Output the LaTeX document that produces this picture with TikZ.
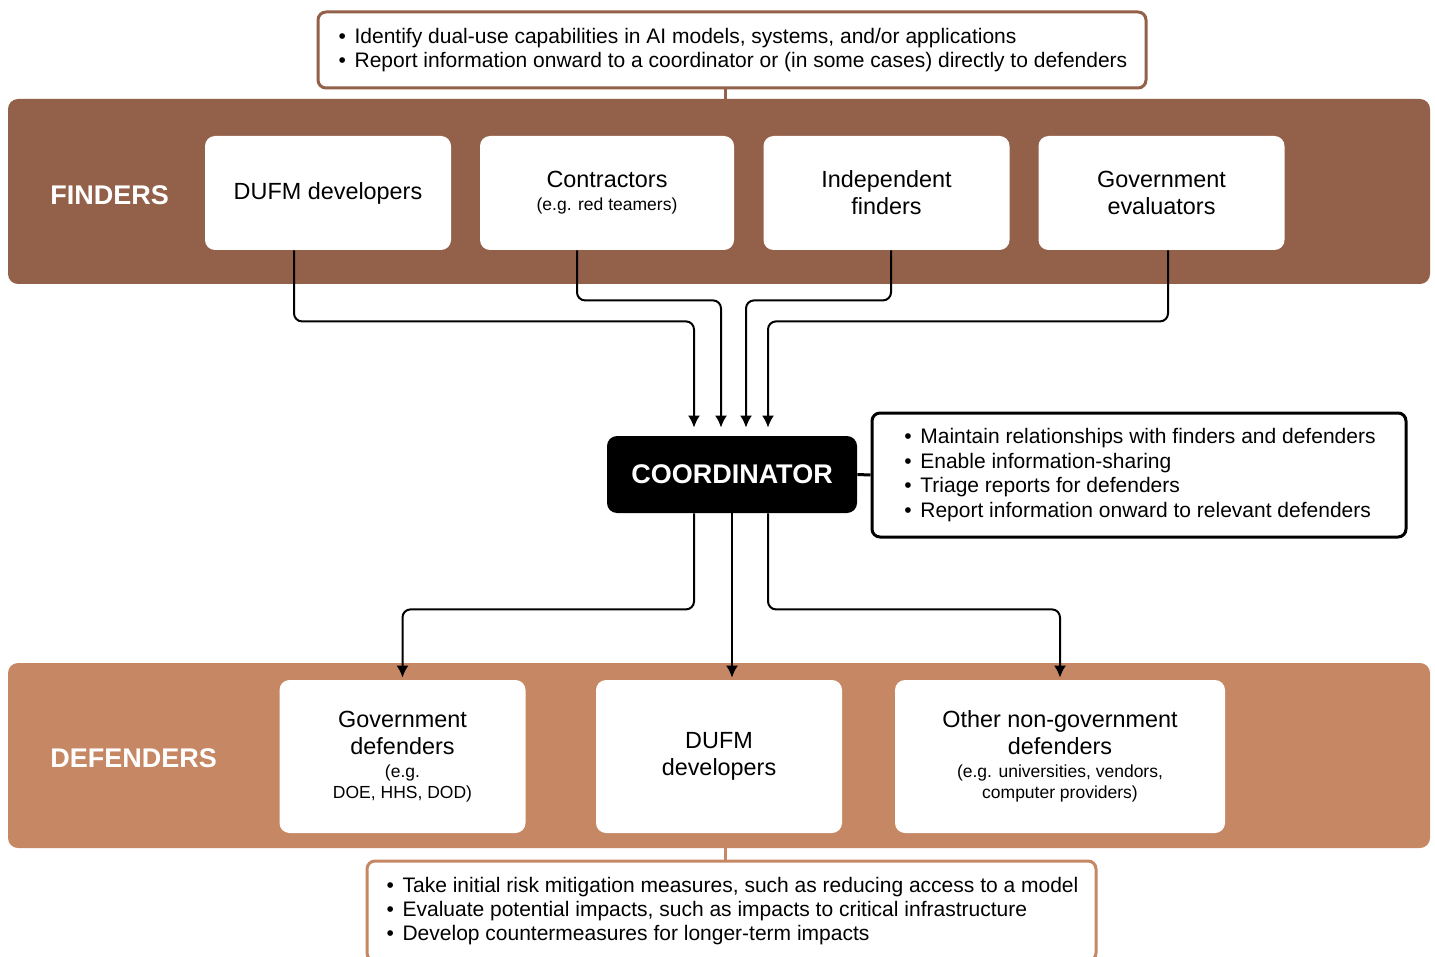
\documentclass[tikz,border=0pt]{standalone}
\usepackage{fontspec}
\setmainfont{Liberation Sans}
\usetikzlibrary{arrows.meta,positioning,calc}
\definecolor{findbrown}{HTML}{93614A}
\definecolor{defbrown}{HTML}{C68765}
\tikzstyle{band} = [rectangle,rounded corners=5pt,minimum width=711pt,minimum height=92.5pt,inner sep=0pt]
\tikzstyle{bandtitle} = [anchor=west,text=white,font=\fontsize{13.5}{16}\selectfont\bfseries,inner sep=0pt]
\tikzstyle{actor} = [rectangle,fill=white,rounded corners=5pt,minimum width=123pt,minimum height=57pt,align=center,inner sep=2pt,font=\fontsize{11.7}{13.5}\selectfont]
\tikzstyle{coordbox} = [rectangle,fill=black,text=white,rounded corners=5pt,minimum width=125pt,minimum height=38.5pt,font=\fontsize{13.5}{16}\selectfont\bfseries]
\tikzstyle{note} = [rectangle,fill=white,draw,line width=1.5pt,rounded corners=4pt,align=left,inner sep=0pt,font=\fontsize{10.5}{12.2}\selectfont]
\tikzstyle{flow} = [->,line width=1pt,rounded corners=4pt]
\tikzset{>={Latex[length=6pt,width=6pt]}}
\newcommand{\bul}{\makebox[9pt][l]{\hspace{1pt}\textbullet}}
\newcommand{\sm}{\fontsize{8.75}{10.5}\selectfont}

\begin{document}
\begin{tikzpicture}[x=0.5pt,y=-0.5pt]
    \clip (0,0) rectangle (1435,957);

    \node [band,fill=findbrown] (finders) at (719,191.5) {};
    \node [band,fill=defbrown] (defenders) at (719,755.5) {};
    \node [bandtitle] (findtitle) at (50,195) {FINDERS};
    \node [bandtitle] (deftitle) at (50,758) {DEFENDERS};

    \node [note,draw=findbrown,minimum width=414pt,minimum height=38pt] (findnote) at (732,50)
        {\bul Identify dual-use capabilities in AI models, systems, and/or applications\\
         \bul Report information onward to a coordinator or (in some cases) directly to defenders};
    \draw [line width=1.5pt,findbrown] ($(findnote.south)+(-7,0)$) -- ($(findnote.south |- finders.north)+(-7,0)$);

    \node [actor] (fdev) at (328,193) {DUFM developers};
    \node [actor,minimum width=127pt] (fcon) at (607,193) {Contractors\\[-2pt]\sm (e.g. red teamers)};
    \node [actor] (find) at (886.5,193) {Independent\\finders};
    \node [actor] (fgov) at (1161.5,193) {Government\\evaluators};

    \node [coordbox] (coord) at (732,474.5) {COORDINATOR};
    \node [note,minimum width=267pt,minimum height=62pt] (coordnote) at (1139,475)
        {\bul Maintain relationships with finders and defenders\\
         \bul Enable information-sharing\\
         \bul Triage reports for defenders\\
         \bul Report information onward to relevant defenders};
    \draw [line width=1.5pt] (coord.east) -- (coordnote.west);

    \draw [flow,shorten >=4pt] ($(fdev.south)+(-34,0)$) -- ++(0,71) -| ($(coord.north)+(-38,0)$);
    \draw [flow,shorten >=4pt] ($(fcon.south)+(-30,0)$) -- ++(0,50) -| ($(coord.north)+(-11,0)$);
    \draw [flow,shorten >=4pt] ($(find.south)+(4.5,0)$) -- ++(0,50) -| ($(coord.north)+(14,0)$);
    \draw [flow,shorten >=4pt] ($(fgov.south)+(6.5,0)$) -- ++(0,71) -| ($(coord.north)+(36,0)$);

    \node [actor,minimum height=76.5pt] (gdef) at (402.5,756.5)
        {Government\\defenders\\[-2pt]\sm (e.g.\\[-3pt]\sm DOE, HHS, DOD)};
    \node [actor,minimum height=76.5pt] (ddev) at (719,756.5) {DUFM\\developers};
    \node [actor,minimum width=165pt,minimum height=76.5pt] (odef) at (1060,756.5)
        {Other non-government\\defenders\\[-2pt]\sm (e.g. universities, vendors,\\[-3pt]\sm computer providers)};

    \draw [flow,shorten >=1pt] ($(coord.south)+(-38,0)$) -- ++(0,96) -| (gdef.north);
    \draw [flow,shorten >=1pt] (coord.south) -- (coord.south |- ddev.north);
    \draw [flow,shorten >=1pt] ($(coord.south)+(36,0)$) -- ++(0,96) -| (odef.north);

    \node [note,draw=defbrown,minimum width=364.5pt,minimum height=50pt] (defnote) at (731.5,911)
        {\bul Take initial risk mitigation measures, such as reducing access to a model\\
         \bul Evaluate potential impacts, such as impacts to critical infrastructure\\
         \bul Develop countermeasures for longer-term impacts};
    \draw [line width=1.5pt,defbrown] ($(defenders.south -| defnote.north)+(-6,0)$) -- ($(defnote.north)+(-6,0)$);
\end{tikzpicture}
\end{document}
